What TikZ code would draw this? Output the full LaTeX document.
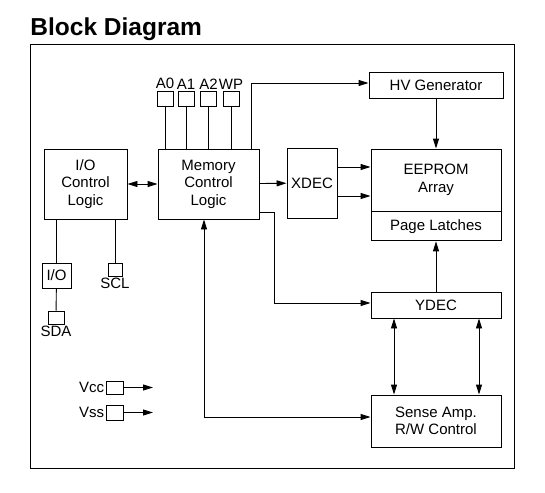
\documentclass[tikz,border=0pt]{standalone}
\usepackage{fontspec}
\setmainfont{Liberation Sans}
\usetikzlibrary{positioning, arrows.meta}
\tikzset{
    >={Triangle[length=10pt, width=6pt]}, % solid narrow arrow heads
    every path/.style={line width=0.9pt},
    blk/.style={draw, line width=0.9pt, align=center, inner sep=0pt, font=\fontsize{15}{17.5}\selectfont}, % the blocks
    pinbox/.style={draw, line width=0.9pt, inner sep=0pt, minimum width=16pt, minimum height=15pt}, % small pin squares
    lbl/.style={inner sep=1pt, font=\fontsize{15}{17}\selectfont}, % pin names
}
\begin{document}
\begin{tikzpicture}[x=1pt, y=-1pt]
    \useasboundingbox (0,0) rectangle (545,492);
    \node[anchor=base west, inner sep=0pt, font=\bfseries\fontsize{24.5}{29}\selectfont] (title) at (30,36) {Block Diagram};
    \draw (30,44) rectangle (514,468);

    % main blocks
    \node[blk, minimum width=83pt, minimum height=70pt] (iocl) at (85.5,184) {I/O\\Control\\Logic};
    \node[blk, minimum width=101pt, minimum height=70pt] (mcl) at (208.5,184) {Memory\\Control\\Logic};
    \node[blk, minimum width=50pt, minimum height=70pt] (xdec) at (312,183) {XDEC};
    \node[blk, minimum width=134pt, minimum height=26pt] (hv) at (436,85) {HV Generator};
    \node[blk, minimum width=130pt, minimum height=62pt] (eeprom) at (436,180) {EEPROM\\Array};
    \node[blk, minimum width=130pt, minimum height=29pt, below=0pt of eeprom] (latch) {Page Latches};
    \node[blk, minimum width=130pt, minimum height=26pt] (ydec) at (436,305) {YDEC};
    \node[blk, minimum width=130pt, minimum height=52pt] (sense) at (436,421) {Sense Amp.\\R/W Control};

    % pins
    \node[pinbox, label={[lbl]above:A0}] (a0) at (165,98.5) {};
    \node[pinbox, label={[lbl]above:A1}] (a1) at (186,98.5) {};
    \node[pinbox, label={[lbl]above:A2}] (a2) at (208.5,98.5) {};
    \node[pinbox, label={[lbl]above:WP}] (wp) at (231,98.5) {};
    \node[blk, minimum width=29pt, minimum height=25pt] (io) at (56.5,275.5) {I/O};
    \node[pinbox, minimum width=16pt, minimum height=13pt, label={[lbl]below:SDA}] (sda) at (56,317.5) {};
    \node[pinbox, minimum width=14pt, minimum height=13pt, label={[lbl]below:SCL}] (scl) at (115,269.5) {};
    \node[pinbox, minimum width=17pt, minimum height=13pt, label={[lbl]left:Vcc}] (vcc) at (114.5,387.5) {};
    \node[pinbox, minimum width=17pt, minimum height=15pt, label={[lbl]left:Vss}] (vss) at (114.5,412.5) {};
    \coordinate (vccout) at (153,387.5);
    \coordinate (vssout) at (153,412.5);

    % connections
    \draw (a0) -- (a0 |- mcl.north);
    \draw (a1) -- (a1 |- mcl.north);
    \draw (a2) -- (a2 |- mcl.north);
    \draw (wp) -- (wp |- mcl.north);
    \draw[->] (mcl.north -| 251,0) |- (hv.west |- 0,83);
    \draw[->] (hv) -- (eeprom);
    \draw[<->] (iocl) -- (mcl);
    \draw[->] (mcl) -- (xdec);
    \draw[->] (xdec.east |- 0,167) -- (eeprom.west |- 0,167);
    \draw[->] (xdec.east |- 0,196) -- (eeprom.west |- 0,196);
    \draw[->] (mcl.east |- 0,212) -- (274,212) |- (ydec.west |- 0,303);
    \draw[->] (ydec) -- (latch);
    \draw[<->] (ydec.south -| 394,0) -- (sense.north -| 394,0);
    \draw[<->] (ydec.south -| 479,0) -- (sense.north -| 479,0);
    \draw[<->] (mcl.south -| 204,0) |- (sense.west |- 0,417);
    \draw (iocl.south -| io) -- (io);
    \draw (io) -- (sda);
    \draw (iocl.south -| scl) -- (scl);
    \draw[->] (vcc) -- (vccout);
    \draw[->] (vss) -- (vssout);
\end{tikzpicture}
\end{document}
